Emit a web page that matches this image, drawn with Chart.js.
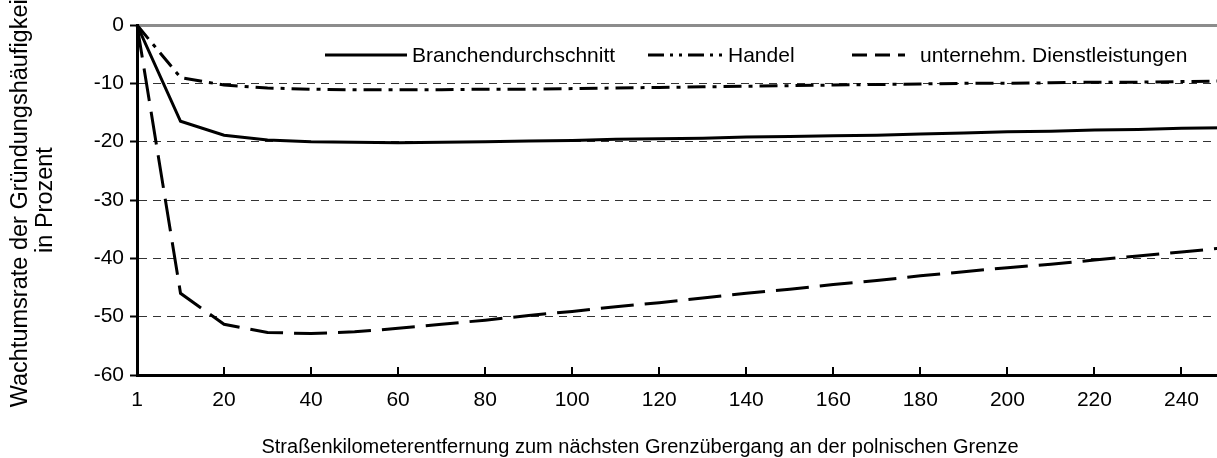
<!DOCTYPE html>
<html>
<head>
<meta charset="utf-8">
<script src="https://cdn.jsdelivr.net/npm/chart.js@4.4.0/dist/chart.umd.min.js"></script>
<style>
  html, body { margin: 0; padding: 0; background: #fff; overflow: hidden; }
  #box { width: 1240px; height: 458px; }
</style>
</head>
<body>
<div id="box"><canvas id="grafico"></canvas></div>
<script>
// Kategorien (km)
var kilometer = ['1', '10', '20', '30', '40', '50', '60', '70', '80', '90', '100', '110', '120',
                 '130', '140', '150', '160', '170', '180', '190', '200', '210', '220', '230', '240', '250'];

var branchendurchschnitt = [0, -16.5, -18.9, -19.7, -20.0, -20.1, -20.2, -20.1, -20.0, -19.9, -19.8, -19.6, -19.5,
                            -19.4, -19.2, -19.1, -19.0, -18.9, -18.7, -18.5, -18.3, -18.2, -18.0, -17.9, -17.7, -17.6];
var handel = [0, -9.0, -10.3, -10.8, -11.0, -11.1, -11.1, -11.1, -11.0, -11.0, -10.9, -10.8, -10.7,
              -10.6, -10.5, -10.4, -10.3, -10.2, -10.1, -10.0, -10.0, -9.9, -9.8, -9.8, -9.7, -9.6];
var dienstleistungen = [0, -46.0, -51.3, -52.7, -52.9, -52.6, -52.0, -51.3, -50.6, -49.8, -49.1, -48.3, -47.6,
                        -46.8, -46.0, -45.3, -44.5, -43.8, -43.0, -42.3, -41.6, -41.0, -40.3, -39.6, -38.9, -38.2];

var yTicks = [0, -10, -20, -30, -40, -50, -60];

var xTitel = 'Straßenkilometerentfernung zum nächsten Grenzübergang an der polnischen Grenze';

var fonte = "'Liberation Sans', Arial, sans-serif";
Chart.defaults.font.family = fonte;
Chart.defaults.color = '#000';

// Striche an der x-Achse nach oben, nur bei beschrifteten Kategorien + Achsentitel
var achseX = {
    id: 'achseX',
    afterDraw: function (chart, args, opts) {
        var ctx = chart.ctx;
        var x = chart.scales.x;
        var fundo = chart.chartArea.bottom;
        ctx.save();
        ctx.strokeStyle = '#000';
        ctx.lineWidth = 2;
        for (var i = 0; i < x.ticks.length; i += 2) {
            var px = Math.round(x.getPixelForTick(i));
            ctx.beginPath();
            ctx.moveTo(px, fundo);
            ctx.lineTo(px, fundo - 8);
            ctx.stroke();
        }
        ctx.font = opts.size + 'px ' + fonte;
        ctx.fillStyle = '#000';
        ctx.textAlign = 'center';
        ctx.textBaseline = 'alphabetic';
        ctx.fillText(xTitel, opts.cx, opts.y);
        ctx.restore();
    }
};

// Legende innerhalb der Zeichenfläche
var legendeInnen = {
    id: 'legendeInnen',
    afterDatasetsDraw: function (chart, args, opts) {
        var ctx = chart.ctx;
        ctx.save();
        ctx.font = opts.size + 'px ' + fonte;
        ctx.textBaseline = 'middle';
        ctx.fillStyle = '#000';
        opts.items.forEach(function (it, i) {
            var ds = chart.data.datasets[i];
            ctx.beginPath();
            ctx.setLineDash(it.dash);
            ctx.lineWidth = 3;
            ctx.strokeStyle = '#000';
            ctx.moveTo(it.x, opts.y);
            ctx.lineTo(it.x + it.w, opts.y);
            ctx.stroke();
            ctx.setLineDash([]);
            ctx.fillText(ds.label, it.tx, opts.y + 1);
        });
        ctx.restore();
    }
};

var grafico = document.getElementById('grafico');

new Chart(grafico, {
    type: 'line',
    data: {
        labels: kilometer,
        datasets: [{
            label: 'Branchendurchschnitt',
            data: branchendurchschnitt,
            borderColor: '#000',
            borderWidth: 3,
            pointRadius: 0,
            tension: 0,
            fill: false
        }, {
            label: 'Handel',
            data: handel,
            borderColor: '#000',
            borderWidth: 3,
            borderDash: [18, 7, 4, 7],
            pointRadius: 0,
            tension: 0,
            fill: false
        }, {
            label: 'unternehm. Dienstleistungen',
            data: dienstleistungen,
            borderColor: '#000',
            borderWidth: 3,
            borderDash: [33, 11],
            pointRadius: 0,
            tension: 0,
            fill: false
        }]
    },
    options: {
        responsive: true,
        maintainAspectRatio: false,
        animation: false,
        layout: {
            padding: { top: 25, right: 15, bottom: 0, left: 0 }
        },
        plugins: {
            legend: { display: false },
            tooltip: { enabled: false },
            achseX: { size: 20, cx: 640, y: 453 },
            legendeInnen: {
                y: 55,
                size: 21,
                items: [
                    { x: 325, w: 82, tx: 412, dash: [] },
                    { x: 648, w: 77, tx: 728, dash: [16, 6, 3, 6, 3, 6] },
                    { x: 852, w: 53, tx: 920, dash: [15, 8] }
                ]
            }
        },
        scales: {
            x: {
                afterFit: function (scale) { scale.height = 83; },
                grid: { display: false, drawTicks: false },
                border: { display: true, color: '#000', width: 3 },
                ticks: {
                    autoSkip: false,
                    maxRotation: 0,
                    padding: 13,
                    font: { size: 21 },
                    callback: function (val, i) {
                        return i % 2 === 0 ? this.getLabelForValue(val) : '';
                    }
                }
            },
            y: {
                min: -60,
                max: 0,
                afterFit: function (scale) { scale.width = 137; },
                afterBuildTicks: function (scale) {
                    scale.ticks = yTicks.map(function (v) { return { value: v }; });
                },
                grid: {
                    drawTicks: true,
                    tickLength: 7,
                    tickColor: '#000',
                    tickWidth: 2,
                    color: function (c) { return c.tick && c.tick.value === 0 ? '#8c8c8c' : '#333'; },
                    lineWidth: function (c) { return c.tick && c.tick.value === 0 ? 3 : 1; }
                },
                border: {
                    display: true,
                    color: '#000',
                    width: 3,
                    dash: function (c) { return c.tick && c.tick.value === 0 ? [] : [8, 6]; }
                },
                ticks: {
                    padding: 6,
                    font: { size: 21 }
                },
                title: {
                    display: true,
                    text: ['Wachtumsrate der Gründungshäufigkeit', 'in Prozent'],
                    font: { size: 23.5, lineHeight: 1.07 },
                    padding: { top: 8, bottom: 0 }
                }
            }
        }
    },
    plugins: [achseX, legendeInnen]
});
</script>
</body>
</html>
